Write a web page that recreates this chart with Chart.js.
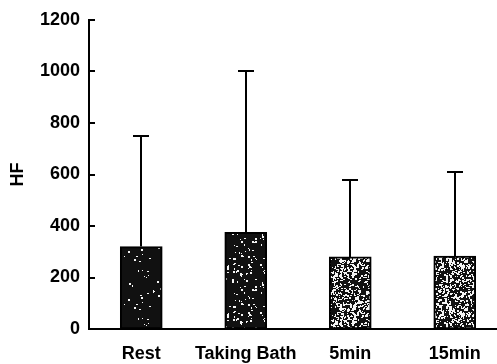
<!DOCTYPE html>
<html>
<head>
<meta charset="utf-8">
<script src="https://cdn.jsdelivr.net/npm/chart.js@4.4.0/dist/chart.umd.min.js"></script>
<style>
    html, body { margin: 0; padding: 0; background: #fff; overflow: hidden; }
    #wrap { position: relative; width: 507px; height: 364px; }
</style>
</head>
<body>
<div id="wrap"><canvas id="hf_chart"></canvas></div>
<script>
const categories = ["Rest", "Taking Bath", "5min", "15min"];
const meanHF = [320, 375, 280, 283];
const upperHF = [750, 1000, 580, 610]; // mean + SD, top of the whisker
const yTicks = [0, 200, 400, 600, 800, 1000, 1200];
const speckDensity = [30, 90, 480, 520];

const ctx = document.querySelector("#hf_chart").getContext("2d");
const font = { family: "'Liberation Sans', Arial, sans-serif", size: 18, weight: "bold" };

// dark fill with white flecks, same seed every time
function speckle(count, seed) {
    const c = document.createElement("canvas");
    c.width = 48;
    c.height = 48;
    const g = c.getContext("2d");
    g.fillStyle = "#111";
    g.fillRect(0, 0, 48, 48);
    let s = seed;
    const next = () => (s = (s * 16807) % 2147483647) / 2147483647;
    g.fillStyle = "#f4f4f4";
    for (let i = 0; i < count; i++) {
        const x = Math.floor(next() * 48);
        const y = Math.floor(next() * 48);
        g.fillRect(x, y, next() < 0.5 ? 1 : 2, next() < 0.6 ? 1 : 2);
    }
    return ctx.createPattern(c, "repeat");
}

// whiskers and inward y ticks
const whiskers = {
    id: "whiskers",
    afterDatasetsDraw(chart) {
        const { ctx, scales: { y } } = chart;
        const bars = chart.getDatasetMeta(0).data;
        ctx.save();
        ctx.strokeStyle = "#000";
        ctx.lineWidth = 2;
        ctx.beginPath();
        bars.forEach((bar, i) => {
            const top = Math.round(y.getPixelForValue(upperHF[i]));
            const cx = Math.round(bar.x);
            ctx.moveTo(cx, bar.y);
            ctx.lineTo(cx, top);
            ctx.moveTo(cx - 8, top);
            ctx.lineTo(cx + 8, top);
        });
        yTicks.forEach((v) => {
            const py = Math.round(y.getPixelForValue(v));
            ctx.moveTo(y.right, py);
            ctx.lineTo(y.right + 6, py);
        });
        ctx.stroke();
        ctx.restore();
    },
};

const hf = new Chart(ctx, {
    type: "bar",
    data: {
        labels: categories,
        datasets: [
            {
                data: meanHF,
                backgroundColor: speckDensity.map((n, i) => speckle(n, 97 + i * 131)),
                borderColor: "#000",
                borderWidth: 2,
                borderSkipped: false,
                barThickness: 42,
            },
        ],
    },
    options: {
        responsive: true,
        maintainAspectRatio: false,
        animation: false,
        layout: { padding: { top: 20, left: 0, right: 0, bottom: 0 } },
        plugins: {
            legend: { display: false },
            tooltip: { enabled: false },
        },
        scales: {
            x: {
                grid: { display: false, drawTicks: false },
                border: { display: true, color: "#000", width: 2 },
                ticks: {
                    color: "#000",
                    font: font,
                    padding: 14,
                    maxRotation: 0,
                    autoSkip: false,
                },
                afterFit: (scale) => { scale.height = 35; },
            },
            y: {
                min: 0,
                max: 1200,
                grid: { display: false, drawTicks: false },
                border: { display: true, color: "#000", width: 2 },
                afterBuildTicks: (scale) => {
                    scale.ticks = yTicks.map((v) => ({ value: v }));
                },
                ticks: {
                    color: "#000",
                    font: font,
                    padding: 9,
                    callback: (value) => String(value),
                },
                title: {
                    display: true,
                    text: "HF",
                    color: "#000",
                    font: font,
                    padding: { top: 7, bottom: 0 },
                },
                afterFit: (scale) => { scale.width = 89; },
            },
        },
    },
    plugins: [whiskers],
});
</script>
</body>
</html>
